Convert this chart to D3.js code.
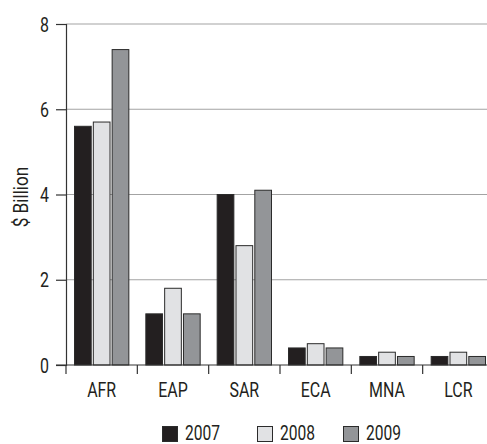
<!DOCTYPE html>
<html><head><meta charset="utf-8">
<script src="https://cdn.jsdelivr.net/npm/d3@7"></script>
<style>body{margin:0;background:#fff}svg{display:block}text{font-family:Roboto,"Liberation Sans",sans-serif;fill:#231f20}</style>
</head><body><svg id="c" width="487" height="444"></svg>
<script>
const categories = ["AFR","EAP","SAR","ECA","MNA","LCR"];
const years = ["2007","2008","2009"];
const v2007 = [5.6,1.2,4.0,0.4,0.2,0.2];
const v2008 = [5.7,1.8,2.8,0.5,0.3,0.3];
const v2009 = [7.4,1.2,4.1,0.4,0.2,0.2];
const yTicks = [0,2,4,6,8];
const colors = ["#231f20","#e1e2e4","#939598"];
const series = [v2007,v2008,v2009];

const FS = 21, SX = 0.76;
const svg = d3.select("#c");
const x0 = d3.scaleBand().domain(categories).range([66,494]).paddingInner(0).paddingOuter(0);
const x1 = d3.scaleBand().domain(years).range([8, x0.bandwidth()-8]).paddingInner(0.06);
const y = d3.scaleLinear().domain([0,8]).range([365,24]);

function label(parent, x, yy, txt, anchor, rot, fs, sx){
  return parent.append("text")
    .attr("transform", `translate(${x},${yy})` + (rot?` rotate(${rot})`:"") + ` scale(${sx||SX},1)`)
    .attr("text-anchor", anchor).attr("font-size", fs||FS).text(txt);
}

// gridlines
svg.append("g").selectAll("line").data(yTicks.filter(d=>d>0)).join("line")
  .attr("x1",66).attr("x2",487).attr("y1",d=>y(d)).attr("y2",d=>y(d))
  .attr("stroke","#a3a3a3").attr("stroke-width",1.2);

// bars
const g = svg.append("g");
categories.forEach((c,i)=>{
  series.forEach((s,j)=>{
    g.append("rect")
      .attr("x", x0(c)+x1(years[j])+0.5)
      .attr("y", y(s[i]))
      .attr("width", x1.bandwidth()-1)
      .attr("height", y(0)-y(s[i]))
      .attr("fill", colors[j]).attr("stroke","#2b2b2b").attr("stroke-width",1);
  });
});

// y axis
const yAxis = d3.axisLeft(y).tickValues(yTicks).tickSize(10).tickFormat("");
const ya = svg.append("g").attr("transform","translate(66,0)").call(yAxis);
ya.select(".domain").attr("stroke","#333").attr("stroke-width",1.2);
ya.selectAll(".tick line").attr("stroke","#333").attr("stroke-width",1.2);
yTicks.forEach(t=>label(svg, 49, y(t)+7.5, String(t), "end"));

// x axis
const xa = svg.append("g").attr("transform","translate(0,365)");
xa.append("line").attr("x1",56).attr("x2",487).attr("y1",0).attr("y2",0).attr("stroke","#333").attr("stroke-width",1.2);
const tickPos = categories.map(c=>x0(c));
xa.selectAll("line.t").data(tickPos).join("line").attr("class","t")
  .attr("x1",d=>d).attr("x2",d=>d).attr("y1",0).attr("y2",9).attr("stroke","#333").attr("stroke-width",1.2);
categories.forEach(c=>label(svg, x0(c)+x0.bandwidth()/2, 397, c, "middle"));

// y title
label(svg, 28, 197, "$ Billion", "middle", -90, 20, 0.86);

// legend
const legX = [162,257,343];
const lg = svg.append("g");
years.forEach((yr,j)=>{
  lg.append("rect").attr("x",legX[j]+0.5).attr("y",426.5).attr("width",15).attr("height",15)
    .attr("fill",colors[j]).attr("stroke","#2b2b2b").attr("stroke-width",1);
  label(lg, legX[j]+23, 440, yr, "start", 0, 20, 0.78);
});
</script></body></html>
